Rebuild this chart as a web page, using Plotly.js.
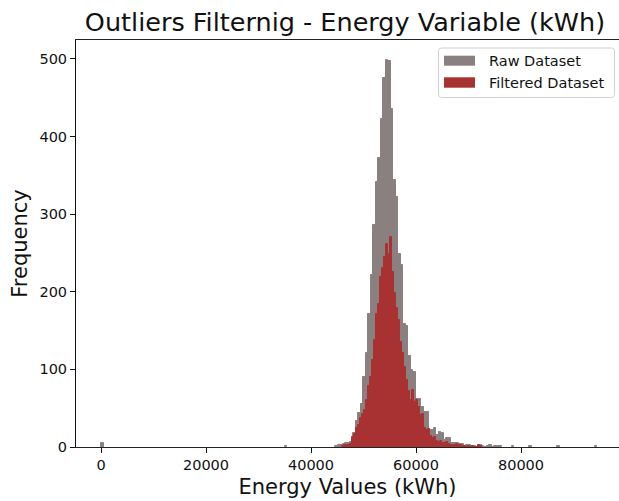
<!DOCTYPE html>
<html>
<head>
<meta charset="utf-8">
<script src="https://cdn.plot.ly/plotly-3.0.1.min.js"></script>
<style>
  html, body { margin: 0; padding: 0; background: #ffffff; }
  #chart { width: 619px; height: 501px; }
</style>
</head>
<body>
<div id="chart"></div>
<script>
// ---------------- DATA ----------------
const seriesNames = ['Raw Dataset', 'Filtered Dataset'];

// Raw dataset histogram: bins of equal width starting at rawBinStart
const rawBinStart = 0;
const rawBinWidth = 480;
const rawCoreFirstBin = 93;
const rawCoreCounts = [
  1, 2, 3, 4, 5, 5, 7, 18, 33, 44,
  55, 90, 121, 171, 221, 286, 341, 372, 423, 475,
  499, 497, 436, 344, 322, 249, 234, 158, 156, 117,
  99, 96, 62, 62, 52, 45, 45, 22, 22, 24,
  15, 19, 18, 9, 12, 11, 5, 5, 5, 4,
  4, 1, 2, 2, 1, 1, 0, 2, 1, 0,
  1, 2, 0, 1, 1, 1
];
// isolated raw outlier bins
const rawSparseBins = [0, 73, 163, 170, 181, 196];
const rawSparseCounts = [5, 1, 1, 1, 1, 1];

// Filtered dataset histogram
const filtBinStart = 45900;
const filtBinWidth = 380;
const filtCounts = [
  1, 2, 2, 3, 4, 13, 17, 24, 28, 37,
  42, 48, 60, 78, 90, 112, 138, 171, 184, 219,
  230, 245, 262, 248, 271, 226, 198, 179, 163, 135,
  121, 103, 86, 72, 60, 73, 58, 61, 52, 41,
  42, 24, 22, 23, 14, 12, 13, 8, 6, 8,
  5, 5, 7, 4, 3, 3, 2, 4, 2, 2,
  1, 1, 0, 1, 0, 1, 0, 0, 3, 1
];

const xTickVals = [0, 20000, 40000, 60000, 80000];
const yTickVals = [0, 100, 200, 300, 400, 500];

const titleText = 'Outliers Filternig - Energy Variable (kWh)';
const xTitleText = 'Energy Values (kWh)';
const yTitleText = 'Frequency';

// ---------------- STYLE ----------------
const rawColor = '#8b8080';
const filtColor = '#a83232';
const FONT = 'DejaVu Sans, Liberation Sans, sans-serif';

// ---------------- BUILD TRACES ----------------
const rawX = [], rawY = [];
rawCoreCounts.forEach((c, i) => {
  rawX.push(rawBinStart + (rawCoreFirstBin + i + 0.5) * rawBinWidth);
  rawY.push(c);
});
rawSparseBins.forEach((b, i) => {
  rawX.push(rawBinStart + (b + 0.5) * rawBinWidth);
  rawY.push(rawSparseCounts[i]);
});
const filtX = filtCounts.map((c, i) => filtBinStart + (i + 0.5) * filtBinWidth);

const traces = [
  {
    type: 'bar', name: seriesNames[0], x: rawX, y: rawY, width: rawBinWidth,
    marker: { color: rawColor, line: { color: rawColor, width: 1 } },
    showlegend: false, hoverinfo: 'x+y'
  },
  {
    type: 'bar', name: seriesNames[1], x: filtX, y: filtCounts, width: filtBinWidth,
    marker: { color: filtColor, line: { color: filtColor, width: 1 } },
    showlegend: false, hoverinfo: 'x+y'
  }
];

// ---------------- LAYOUT ----------------
const W = 619, H = 501;
const M = { l: 76, r: 0, t: 40, b: 54 };
const plotW = W - M.l - M.r, plotH = H - M.t - M.b;
const px2paperX = px => (px - M.l) / plotW;
const py2paperY = py => (H - M.b - py) / plotH;

function roundedRect(x0, y0, x1, y1, r) {
  const a = px2paperX(x0), b = px2paperX(x1);
  const top = py2paperY(y0), bot = py2paperY(y1);
  const rx = r / plotW, ry = r / plotH;
  return `M ${a + rx} ${top} L ${b - rx} ${top} Q ${b} ${top} ${b} ${top - ry} ` +
         `L ${b} ${bot + ry} Q ${b} ${bot} ${b - rx} ${bot} L ${a + rx} ${bot} ` +
         `Q ${a} ${bot} ${a} ${bot + ry} L ${a} ${top - ry} Q ${a} ${top} ${a + rx} ${top} Z`;
}

const legendItems = [
  { name: seriesNames[0], color: rawColor, y0: 55.7, y1: 65.7 },
  { name: seriesNames[1], color: filtColor, y0: 77.3, y1: 87.7 }
];

const shapes = [
  {
    type: 'path', xref: 'paper', yref: 'paper',
    path: roundedRect(438.5, 48, 614.5, 97.5, 3),
    fillcolor: 'rgba(255,255,255,0.85)', line: { color: '#d0d0d0', width: 1 }
  }
];
const annotations = [];
legendItems.forEach(it => {
  shapes.push({
    type: 'rect', xref: 'paper', yref: 'paper',
    x0: px2paperX(444), x1: px2paperX(475),
    y0: py2paperY(it.y1), y1: py2paperY(it.y0),
    fillcolor: it.color, line: { width: 0 }
  });
  annotations.push({
    xref: 'paper', yref: 'paper',
    x: px2paperX(486.5), y: py2paperY((it.y0 + it.y1) / 2),
    xanchor: 'left', yanchor: 'middle', showarrow: false,
    text: it.name, font: { family: FONT, size: 14.5, color: '#111' }
  });
});

const layout = {
  width: W, height: H,
  margin: M,
  paper_bgcolor: '#ffffff', plot_bgcolor: '#ffffff',
  barmode: 'overlay', bargap: 0, bargroupgap: 0,
  font: { family: FONT, size: 14.5, color: '#111' },
  title: {
    text: titleText,
    font: { family: FONT, size: 25.5, color: '#111' },
    xref: 'container', yref: 'container',
    x: 345 / W, xanchor: 'center',
    y: 1 - 22 / H, yanchor: 'middle'
  },
  xaxis: {
    range: [-4762, 98667],
    tickvals: xTickVals, ticktext: xTickVals.map(v => String(v)),
    ticks: 'outside', ticklen: 5, tickwidth: 1, tickcolor: '#111',
    showline: true, linecolor: '#222', linewidth: 1, mirror: true,
    showgrid: false, zeroline: false, automargin: false,
    tickfont: { family: FONT, size: 14.5, color: '#111' },
    title: { text: xTitleText, font: { family: FONT, size: 21, color: '#111' }, standoff: 6 }
  },
  yaxis: {
    range: [0, 524.3],
    tickvals: yTickVals, ticktext: yTickVals.map(v => String(v)),
    ticks: 'outside', ticklen: 5, tickwidth: 1, tickcolor: '#111',
    showline: true, linecolor: '#111', linewidth: 1, mirror: false,
    showgrid: false, zeroline: false, automargin: false,
    tickfont: { family: FONT, size: 14.5, color: '#111' },
    title: { text: yTitleText, font: { family: FONT, size: 21, color: '#111' }, standoff: 6 }
  },
  shapes: shapes,
  annotations: annotations,
  showlegend: false
};

Plotly.newPlot('chart', traces, layout, { displayModeBar: false, staticPlot: false });
</script>
</body>
</html>
